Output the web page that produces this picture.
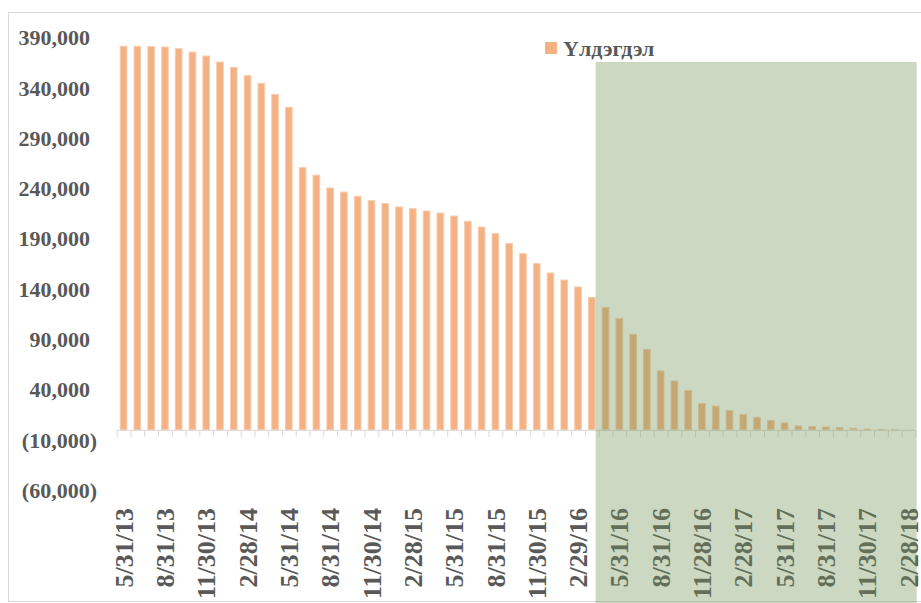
<!DOCTYPE html>
<html lang="mn">
  <head>
    <meta charset="UTF-8" />
    <title>Үлдэгдэл</title>
    <style>
      body {
        margin: 0;
        background: #fff;
      }
      text {
        font-family: "Liberation Serif", "Times New Roman", serif;
        font-weight: bold;
        fill: #595959;
      }
      .bar {
        fill: #f4b183;
        stroke: #f8cbad;
        stroke-width: 1;
      }
      .domain,
      .tick {
        stroke: #d9d9d9;
      }
    </style>
  </head>

  <body>
    <script src="https://cdn.jsdelivr.net/npm/d3@7"></script>
    <script>
      /* global d3 */

      const width = 921,
        height = 603;

      // month-end dates as they appear in the source table
      const dates = [
        "5/31/13", "6/30/13", "7/31/13", "8/31/13", "9/30/13", "10/31/13",
        "11/30/13", "12/31/13", "1/31/14", "2/28/14", "3/31/14", "4/30/14",
        "5/31/14", "6/30/14", "7/31/14", "8/31/14", "9/30/14", "10/31/14",
        "11/30/14", "12/31/14", "1/31/15", "2/28/15", "3/31/15", "4/30/15",
        "5/31/15", "6/30/15", "7/31/15", "8/31/15", "9/30/15", "10/31/15",
        "11/30/15", "12/31/15", "1/31/16", "2/29/16", "3/31/16", "4/30/16",
        "5/31/16", "6/30/16", "7/31/16", "8/31/16", "9/30/16", "10/31/16",
        "11/28/16", "12/31/16", "1/31/17", "2/28/17", "3/31/17", "4/30/17",
        "5/31/17", "6/30/17", "7/31/17", "8/31/17", "9/30/17", "10/31/17",
        "11/30/17", "12/31/17", "1/31/18", "2/28/18"
      ];

      // Үлдэгдэл (balance)
      const balance = [
        381200, 381200, 381000, 380500, 378900, 375500, 371600, 365600, 360300, 352100,
        344400, 333400, 320600, 260600, 253200, 240400, 236400, 232100, 227800, 224900,
        221500, 219900, 217500, 215500, 212500, 207300, 201600, 195000, 185100, 175100,
        165200, 155900, 148900, 142000, 131600, 121500, 110500, 94900, 80000, 58500,
        48500, 39000, 26000, 23400, 19100, 15100, 12400, 9400, 6800, 3800,
        3200, 2800, 2200, 1500, 700, 300, 150, 0
      ];

      const yTicks = [390000, 340000, 290000, 240000, 190000, 140000, 90000, 40000, -10000, -60000];

      // last actual month; the shaded forecast starts right after its bar
      const lastActual = "3/31/16";

      const data = dates.map((d, i) => ({ date: d, value: balance[i] }));

      const svg = d3
        .select("body")
        .append("svg")
        .attr("width", width)
        .attr("height", height);

      // chart border
      svg
        .append("rect")
        .attr("x", 8.5)
        .attr("y", 12.5)
        .attr("width", 920)
        .attr("height", 589)
        .attr("fill", "none")
        .attr("stroke", "#d9d9d9");

      const x = d3
        .scaleBand()
        .domain(dates)
        .range([116.7, 915.4])
        .paddingInner(0.52)
        .paddingOuter(0.26);

      const y = d3
        .scaleLinear()
        .domain([-60000, 390000])
        .range([490.2, 37.5]);

      const fmt = d3.format(",");

      // y labels, Excel style #,##0_);(#,##0)
      svg
        .append("g")
        .selectAll("text")
        .data(yTicks)
        .join("text")
        .attr("x", 97)
        .attr("dx", d => (d < 0 ? 0 : -7))
        .attr("y", d => y(d))
        .attr("dy", "0.35em")
        .attr("text-anchor", "end")
        .style("font-size", "22px")
        .text(d => (d < 0 ? "(" + fmt(-d) + ")" : fmt(d)));

      svg
        .selectAll(".bar")
        .data(data)
        .join("rect")
        .attr("class", "bar")
        .attr("x", d => x(d.date))
        .attr("width", x.bandwidth())
        .attr("y", d => y(Math.max(0, d.value)))
        .attr("height", d => Math.abs(y(d.value) - y(0)));

      // category axis: line at zero, ticks between categories
      const x0 = x.range()[0],
        step = x.step();
      const axis = svg.append("g");
      axis
        .append("line")
        .attr("class", "domain")
        .attr("x1", x0)
        .attr("x2", x.range()[1])
        .attr("y1", y(0) + 0.5)
        .attr("y2", y(0) + 0.5);
      axis
        .selectAll(".tick")
        .data(d3.range(dates.length + 1))
        .join("line")
        .attr("class", "tick")
        .attr("x1", i => x0 + i * step + 0.5)
        .attr("x2", i => x0 + i * step + 0.5)
        .attr("y1", y(0) + 0.5)
        .attr("y2", y(0) + 7);

      svg
        .append("g")
        .selectAll("text")
        .data(dates.filter((d, i) => i % 3 === 0))
        .join("text")
        .attr("transform", d => `translate(${x(d) + x.bandwidth() / 2},508) rotate(-90)`)
        .attr("dy", "0.35em")
        .attr("text-anchor", "end")
        .style("font-size", "26px")
        .text(d => d);

      // legend
      const legend = svg.append("g").attr("transform", "translate(545,42)");
      legend
        .append("rect")
        .attr("width", 12)
        .attr("height", 12)
        .attr("fill", "#f4b183");
      legend
        .append("text")
        .attr("x", 18)
        .attr("y", 6)
        .attr("dy", "0.35em")
        .style("font-size", "22px")
        .text("Үлдэгдэл");

      // green overlay on the forecast months
      const shadeX = x(lastActual) + x.bandwidth() + 0.5;
      svg
        .append("rect")
        .attr("x", shadeX)
        .attr("y", 62)
        .attr("width", x.range()[1] + 1.3 - shadeX)
        .attr("height", height - 62)
        .attr("fill", "rgb(118,150,90)")
        .attr("fill-opacity", 0.37);
    </script>
  </body>
</html>
